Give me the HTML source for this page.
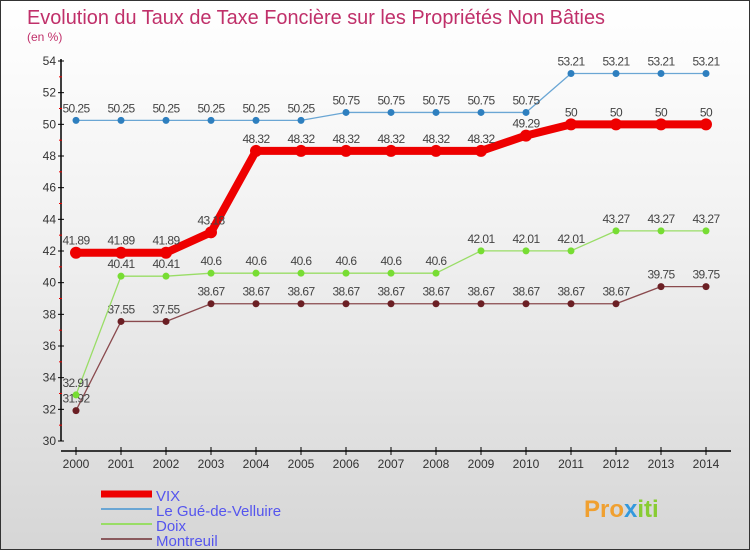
<!DOCTYPE html>
<html><head><meta charset="utf-8"><style>
body{margin:0}
#c{width:750px;height:550px;position:relative;box-sizing:border-box;border:1px solid #333;background:linear-gradient(#ffffff,#f2f2f2 40%,#d6d6d6);font-family:"Liberation Sans","DejaVu Sans",sans-serif;overflow:hidden}
</style></head><body>
<div id="c">
<svg id="s" width="750" height="550" style="position:absolute;left:0;top:0">
<text x="26" y="23" font-size="20" fill="#c0306a" textLength="578" lengthAdjust="spacingAndGlyphs">Evolution du Taux de Taxe Foncière sur les Propriétés Non Bâties</text>
<text x="26" y="40" font-size="12" fill="#c0306a">(en %)</text>
<g id="axes"></g>
<g id="series"></g>
<g id="legend"></g>
<text x="583" y="516" font-size="24" font-weight="bold" fill="#f0a030">Pro<tspan fill="#3399dd">x</tspan><tspan fill="#88cc33">iti</tspan></text>
</svg>
</div>
<script>
const years=[2000,2001,2002,2003,2004,2005,2006,2007,2008,2009,2010,2011,2012,2013,2014];
const vix=[41.89,41.89,41.89,43.18,48.32,48.32,48.32,48.32,48.32,48.32,49.29,50,50,50,50];
const gue=[50.25,50.25,50.25,50.25,50.25,50.25,50.75,50.75,50.75,50.75,50.75,53.21,53.21,53.21,53.21];
const doix=[32.91,40.41,40.41,40.6,40.6,40.6,40.6,40.6,40.6,42.01,42.01,42.01,43.27,43.27,43.27];
const montreuil=[31.92,37.55,37.55,38.67,38.67,38.67,38.67,38.67,38.67,38.67,38.67,38.67,38.67,39.75,39.75];
const yTicks=[30,32,34,36,38,40,42,44,46,48,50,52,54];
const NS="http://www.w3.org/2000/svg";
const X=i=>75+i*45;
const Y=v=>440-(v-30)*(380/24);
function mk(t,a,p){const e=document.createElementNS(NS,t);for(const k in a)e.setAttribute(k,a[k]);p.appendChild(e);return e;}
const ax=document.getElementById('axes');
let e=mk('line',{x1:60,y1:58,x2:60,y2:440,stroke:'#000','stroke-width':1.5},ax);


e=mk('line',{x1:60,y1:450,x2:730,y2:450,stroke:'#000','stroke-width':1.5},ax);


yTicks.forEach((v,i)=>{
  mk('line',{x1:57,y1:Y(v),x2:63,y2:Y(v),stroke:'#000'},ax);
  if(i<yTicks.length-1)mk('line',{x1:58,y1:Y(v+1),x2:61,y2:Y(v+1),stroke:'#e00'},ax);
  const t=mk('text',{x:55,y:Y(v)+4,'text-anchor':'end','font-size':12,fill:'#333'},ax);
  t.textContent=v;
  
  
});
years.forEach((y,i)=>{
  mk('line',{x1:X(i),y1:446,x2:X(i),y2:454,stroke:'#000'},ax);
  const t=mk('text',{x:X(i),y:467,'text-anchor':'middle','font-size':12,fill:'#333'},ax);
  t.textContent=y;
  
  
});
const sg=document.getElementById('series');
const defs=[
 {d:montreuil,c:'#6b1f24',lc:'#8a4a4e',w:1.3,r:3.5,name:'montreuil'},
 {d:doix,c:'#77dd33',lc:'#99dd66',w:1.3,r:3.5,name:'doix'},
 {d:gue,c:'#2e7fbf',lc:'#6aa6d4',w:1.3,r:3.5,name:'le-gue-de-velluire'},
 {d:vix,c:'#ee0000',lc:'#ee0000',w:8,r:6,name:'vix'}];
defs.forEach(s=>{
  const g=mk('g',{},sg);
  
  
  const l=mk('polyline',{points:s.d.map((v,i)=>X(i)+','+Y(v)).join(' '),fill:'none',stroke:s.lc,'stroke-width':s.w,'stroke-linejoin':'round'},g);
  
  
  s.d.forEach((v,i)=>{
    const p=mk('circle',{cx:X(i),cy:Y(v),r:s.r,fill:s.c},g);
    
    
    const t=mk('text',{x:X(i),y:Y(v)-8,'text-anchor':'middle','font-size':12,fill:'#444','letter-spacing':'-0.6'},g);
    t.textContent=v;
    
    
  });
});
const lg=document.getElementById('legend');
[['VIX','#ee0000',7],['Le Gué-de-Velluire','#6aa6d4',2],['Doix','#99dd66',2],['Montreuil','#8a5a5e',2]].forEach((d,i)=>{
  const y=493+i*15;
  const l=mk('line',{x1:100,y1:y,x2:151,y2:y,stroke:d[1],'stroke-width':d[2]},lg);
  
  
  const t=mk('text',{x:155,y:y+7,'font-size':15,fill:'#5555ee'},lg);
  t.textContent=d[0];
  
  
});
</script>
</body></html>
